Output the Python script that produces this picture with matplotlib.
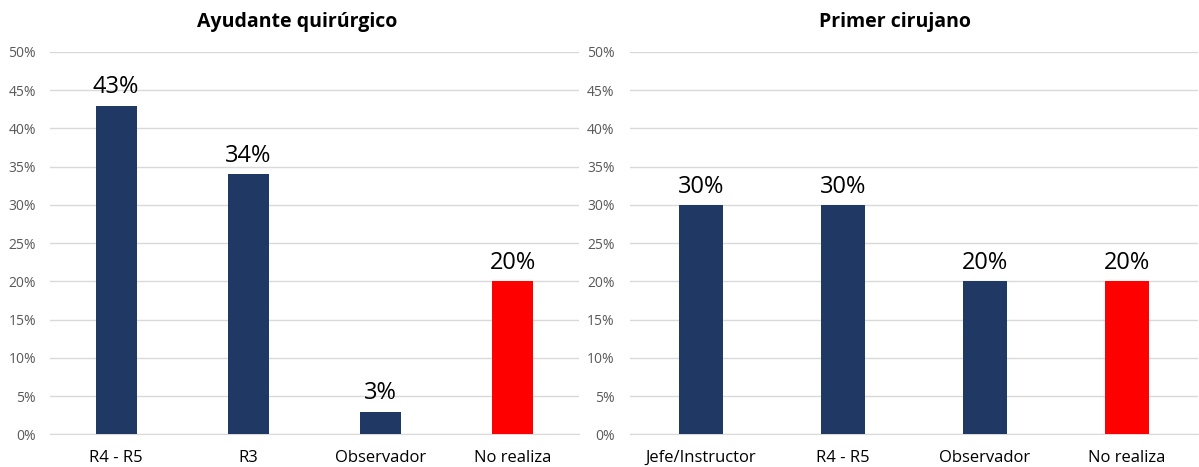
import matplotlib.pyplot as plt
from matplotlib.ticker import PercentFormatter

# Data
left_title = "Ayudante quirúrgico"
left_categories = ["R4 - R5", "R3", "Observador", "No realiza"]
left_values = [43, 34, 3, 20]

right_title = "Primer cirujano"
right_categories = ["Jefe/Instructor", "R4 - R5", "Observador", "No realiza"]
right_values = [30, 30, 20, 20]

NAVY = "#1F3864"
RED = "#FF0000"
GRID = "#D9D9D9"
TEXT_GRAY = "#595959"

plt.rcParams['font.family'] = ['Open Sans', 'DejaVu Sans']

fig = plt.figure(figsize=(11.99, 4.67), dpi=100)
ax_left = fig.add_axes([50 / 1199, 0.0696, 529 / 1199, 0.8191])
ax_right = fig.add_axes([630 / 1199, 0.0696, 568 / 1199, 0.8191])


def draw_panel(ax, title, categories, values, ypad):
    colors = [RED if c == "No realiza" else NAVY for c in categories]
    x = range(len(categories))
    bars = ax.bar(x, values, width=0.31, color=colors, zorder=3)
    for bar, v in zip(bars, values):
        ax.text(bar.get_x() + bar.get_width() / 2, v + 1.6, f"{v}%",
                ha="center", va="baseline", fontsize=17, color="black")
    ax.set_xticks(list(x))
    ax.set_xticklabels(categories, fontsize=12, color="black")
    ax.set_xlim(-0.5, len(categories) - 0.5)
    ax.set_ylim(0, 50)
    ax.set_yticks(range(0, 51, 5))
    ax.yaxis.set_major_formatter(PercentFormatter(decimals=0))
    ax.tick_params(axis="y", labelsize=10, labelcolor=TEXT_GRAY, length=0, pad=ypad)
    ax.tick_params(axis="x", length=0, pad=11)
    ax.grid(axis="y", color=GRID, linewidth=1, zorder=0)
    for side in ["top", "right", "left"]:
        ax.spines[side].set_visible(False)
    ax.spines["bottom"].set_color(GRID)
    ax.set_title(title, fontsize=14, fontweight="bold", pad=18, x=0.467)


draw_panel(ax_left, left_title, left_categories, left_values, 10)
draw_panel(ax_right, right_title, right_categories, right_values, 11)

fig.savefig("out.png", dpi=100)
